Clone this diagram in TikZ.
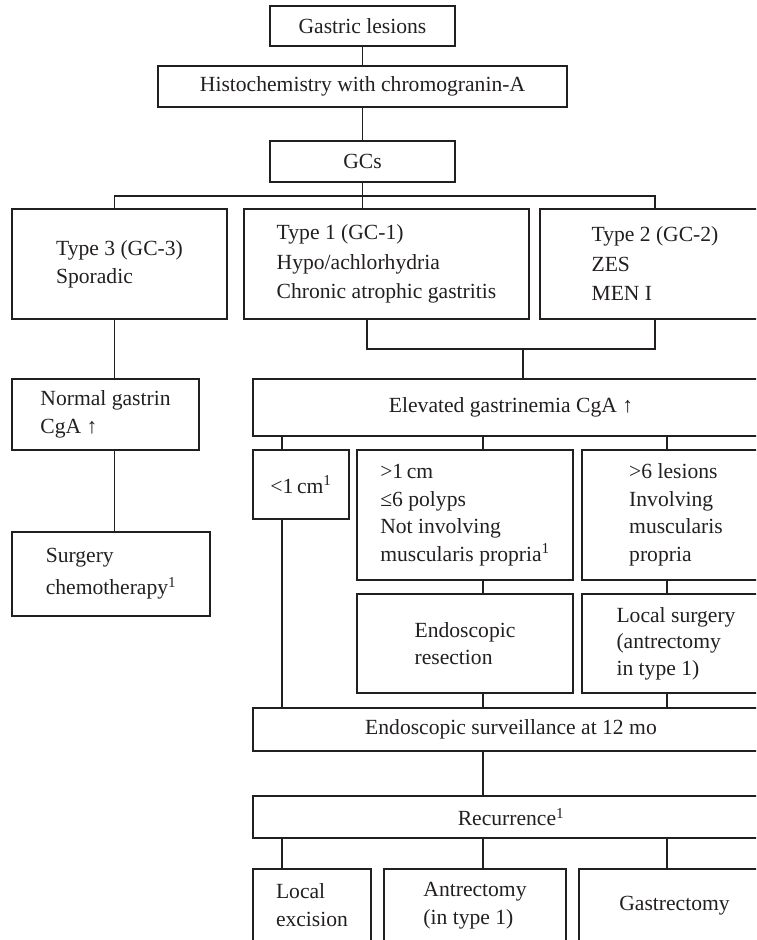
\documentclass[tikz,border=0pt]{standalone}
\usepackage{fontspec}
\setmainfont{Liberation Serif}
\definecolor{ink}{HTML}{231F20}
\begin{document}
\begin{tikzpicture}[x=1pt,y=-1pt,
  box/.style={draw=ink, line width=1.1pt, inner sep=0pt, outer sep=0pt,
    align=left, text=ink, font=\fontsize{21.6}{28}\selectfont},
  conn/.style={draw=ink, line width=1.1pt}]
\useasboundingbox (0,0) rectangle (756,940);
\clip (0,0) rectangle (756,940);
% top chain
\node[box, minimum width=185pt, minimum height=40pt] (g1) at (362.5,26) {Gastric lesions};
\node[box, minimum width=409pt, minimum height=41pt] (g2) at (362.5,86.5) {Histochemistry with chromogranin-A};
\node[box, minimum width=185pt, minimum height=41pt] (g3) at (362.5,161.5) {GCs};
% types
\node[box, minimum width=215pt, minimum height=110pt] (t3) at (119.5,264) {Type 3 (GC-3)\\Sporadic};
\node[box, minimum width=285pt, minimum height=110pt] (t1) at (386.5,264) {Type 1 (GC-1)\\[1.5pt]Hypo/achlorhydria\\[1.5pt]Chronic atrophic gastritis};
\node[box, minimum width=230pt, minimum height=110pt] (t2) at (655,264) {Type 2 (GC-2)\\[1.5pt]ZES\\[1.5pt]MEN I};
% left column
\node[box, minimum width=187pt, minimum height=71pt] (ng) at (105.5,414.5) {Normal gastrin\\CgA ↑};
\node[box, minimum width=198pt, minimum height=84pt] (sc) at (111,574) {Surgery\\[4pt]chemotherapy\textsuperscript{1}};
% right column
\node[box, minimum width=516pt, minimum height=57pt] (el) at (511,407.5) {Elevated gastrinemia CgA ↑};
\node[box, minimum width=96pt, minimum height=69pt] (a1) at (301,484.5) {<1\,cm\textsuperscript{1}};
\node[box, minimum width=216pt, minimum height=130pt] (a2) at (465,515) {>1\,cm\\[-0.5pt]≤6 polyps\\[-0.5pt]Not involving\\[-0.5pt]muscularis propria\textsuperscript{1}};
\node[box, minimum width=188pt, minimum height=130pt] (a3) at (676,515) {>6 lesions\\[-0.5pt]Involving\\[-0.5pt]muscularis\\[-0.5pt]propria};
\node[box, minimum width=216pt, minimum height=99pt] (b2) at (465,643.5) {Endoscopic\\[-1pt]resection};
\node[box, minimum width=188pt, minimum height=99pt] (b3) at (676,643.5) {Local surgery\\[-1.5pt](antrectomy\\[-1.5pt]in type 1)};
\node[box, minimum width=516pt, minimum height=43pt] (es) at (511,729.5) {Endoscopic surveillance at 12 mo};
\node[box, minimum width=516pt, minimum height=42pt] (rc) at (511,817) {Recurrence\textsuperscript{1}};
\node[box, minimum width=118pt, minimum height=73pt] (c1) at (312,905.5) {Local\\excision};
\node[box, minimum width=182pt, minimum height=73pt] (c2) at (475,905.5) {Antrectomy\\(in type 1)};
\node[box, minimum width=191pt, minimum height=73pt] (c3) at (674.5,905.5) {Gastrectomy};
% guide coordinates
\coordinate (L) at (114.5,0);
\coordinate (hy) at (0,196);
\coordinate (B1) at (367,0);
\coordinate (by) at (0,349);
\coordinate (Bc) at (523,349);
\coordinate (X1) at (282,0);
\coordinate (X2) at (483,0);
\coordinate (X3) at (667,0);
% connectors
\draw[conn] (g1) -- (g2);
\draw[conn] (g2) -- (g3);
\draw[conn] (g3) -- (g3 |- t1.north);
\draw[conn] (L |- t3.north) -- (L |- hy) -- (t2.north |- hy) -- (t2.north);
\draw[conn] (L |- t3.south) -- (L |- ng.north);
\draw[conn] (L |- ng.south) -- (L |- sc.north);
\draw[conn] (B1 |- t1.south) -- (B1 |- by) -- (t2.south |- by) -- (t2.south);
\draw[conn] (Bc) -- (Bc |- el.north);
\draw[conn] (X1 |- el.south) -- (X1 |- a1.north);
\draw[conn] (X2 |- el.south) -- (X2 |- a2.north);
\draw[conn] (X3 |- el.south) -- (X3 |- a3.north);
\draw[conn] (X2 |- a2.south) -- (X2 |- b2.north);
\draw[conn] (X3 |- a3.south) -- (X3 |- b3.north);
\draw[conn] (X1 |- a1.south) -- (X1 |- es.north);
\draw[conn] (X2 |- b2.south) -- (X2 |- es.north);
\draw[conn] (X3 |- b3.south) -- (X3 |- es.north);
\draw[conn] (X2 |- es.south) -- (X2 |- rc.north);
\draw[conn] (X1 |- rc.south) -- (X1 |- c1.north);
\draw[conn] (X2 |- rc.south) -- (X2 |- c2.north);
\draw[conn] (X3 |- rc.south) -- (X3 |- c3.north);
\end{tikzpicture}
\end{document}
